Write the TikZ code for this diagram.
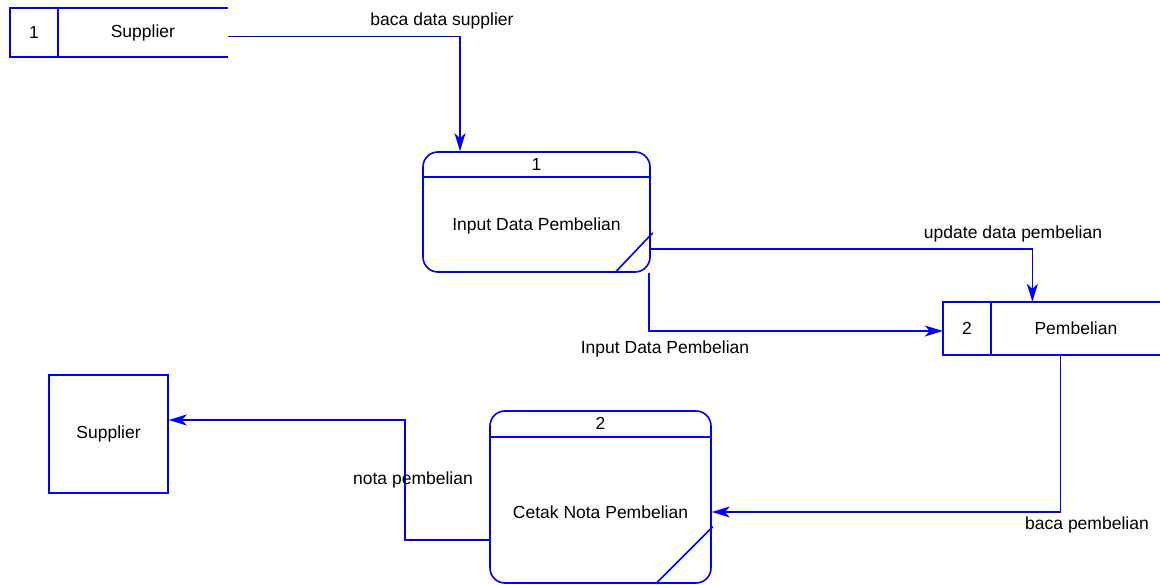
\documentclass[tikz,border=0pt]{standalone}
\usepackage{fontspec}
\setmainfont{Liberation Sans}
\usetikzlibrary{arrows.meta,positioning}
\tikzset{>=stealth}
\tikzset{
	line/.style={draw=blue, line width=1.6pt},
	flow/.style={line, -{Stealth[length=18pt, width=11pt, inset=5pt]}},
	proc/.style={line, rounded corners=15pt},
	idcell/.style={minimum width=48pt, inner sep=0pt},
	namecell/.style={minimum width=169pt, inner sep=0pt},
}

\begin{document}
\begin{tikzpicture}[x=1pt, y=-1pt, font=\fontsize{17.5}{21}\selectfont]
	\useasboundingbox (0,0) rectangle (1160,585);
	% data stores
	\node [idcell, minimum height=49pt] (s1id) at (34,32.5) {1};
	\node [namecell, minimum height=49pt, right=0pt of s1id] (s1) {Supplier};
	\node [idcell, minimum height=53pt] (s2id) at (967,328.5) {2};
	\node [namecell, minimum height=53pt, right=0pt of s2id] (s2) {Pembelian};
	\foreach \s in {s1,s2} {
	\draw [line] (\s.north east) -- (\s id.north west) -- (\s id.south west) -- (\s.south east);
	\draw [line] (\s id.north east) -- (\s id.south east);
	}
	% processes
	\node [proc, minimum width=227pt, minimum height=120pt] (p1) at (536.5,212) {};
	\draw [line] ([yshift=-26pt]p1.north west) -- ([yshift=-26pt]p1.north east);
	\draw [line] ([xshift=-36pt]p1.south east) -- ([xshift=2pt, yshift=40pt]p1.south east);
	\node (p1num) at ([yshift=-13pt]p1.north) {1};
	\node (p1txt) at ([yshift=-14pt]p1.center) {Input Data Pembelian};
	\node [proc, minimum width=221pt, minimum height=172pt] (p2) at (600.5,497) {};
	\draw [line] ([yshift=-27pt]p2.north west) -- ([yshift=-27pt]p2.north east);
	\draw [line] ([xshift=-56pt]p2.south east) -- ([xshift=1pt, yshift=57pt]p2.south east);
	\node (p2num) at ([yshift=-13pt]p2.north) {2};
	\node (p2txt) at ([yshift=-15pt]p2.center) {Cetak Nota Pembelian};
	% external entity
	\node [line, minimum width=119pt, minimum height=118pt] (sup) at (108.5,434) {Supplier};
	% flows
	\draw [flow] ([yshift=-4pt]s1.east) -| ([xshift=-76.5pt]p1.north);
	\node (f1) at (442,21) {baca data supplier};
	\draw [flow] ([yshift=-37pt]p1.east) -| ([xshift=-43.5pt]s2.north);
	\node (f2) at (1013,234) {update data pembelian};
	\draw [flow] ([xshift=-2pt]p1.south east) |- ([yshift=-2.5pt]s2id.west);
	\node (f3) at (665,349) {Input Data Pembelian};
	\draw [flow] ([xshift=-15.5pt]s2.south) |- ([yshift=-15pt]p2.east);
	\node (f4) at (1087,525) {baca pembelian};
	\draw [flow] ([yshift=-43pt]p2.west) -- ++(-84,0) |- ([yshift=14pt]sup.east);
	\node (f5) at (413,480) {nota pembelian};
\end{tikzpicture}
\end{document}
